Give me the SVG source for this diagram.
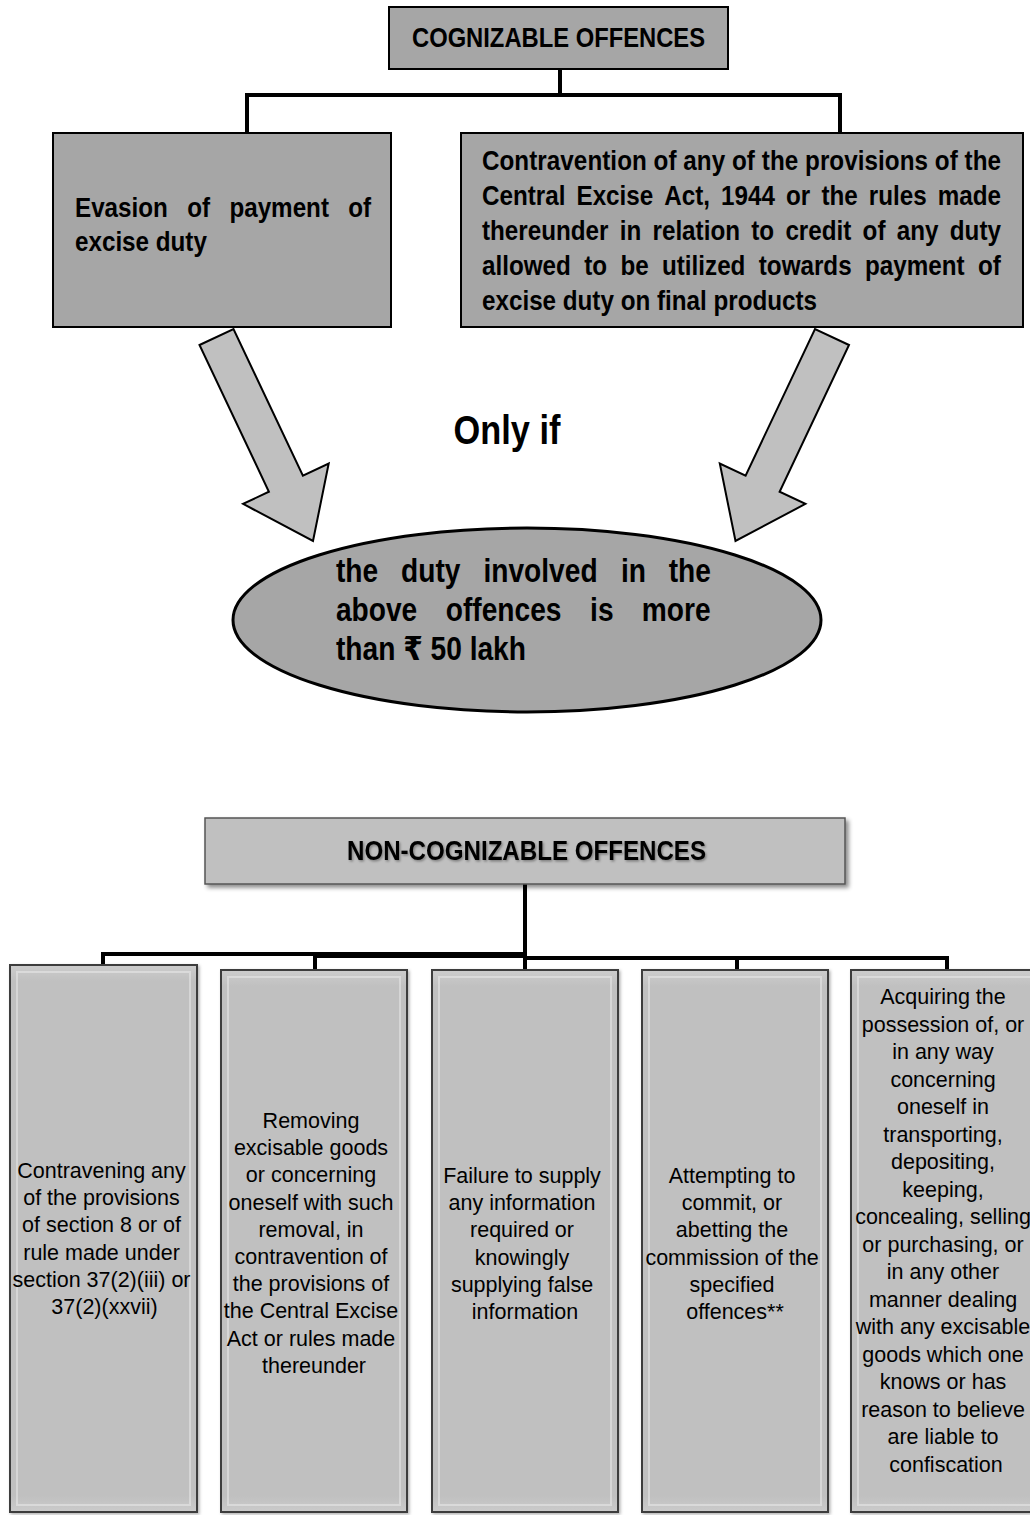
<svg xmlns="http://www.w3.org/2000/svg" width="1030" height="1515" viewBox="0 0 1030 1515">
  <defs>
    <style>
      .bold { font-family: "Liberation Sans", Arial, "DejaVu Sans", sans-serif; font-weight: bold; fill: #000; }
      .plain { font-family: "Liberation Sans", Arial, sans-serif; font-size: 21.5px; fill: #000; text-anchor: middle; }
      .darkbox { fill: #a6a6a6; stroke: #000; stroke-width: 2; }
      .arrow { fill: #c0c0c0; stroke: #000; stroke-width: 2; stroke-linejoin: miter; }
      .wire { fill: none; stroke: #000; stroke-width: 4; stroke-linecap: square; }
      .glass { fill: url(#glassFill); stroke: #3c3c3c; stroke-width: 2; }
      .glassEdge { fill: none; stroke: #ffffff; stroke-opacity: 0.35; stroke-width: 2; }
    </style>
    <linearGradient id="glassFill" x1="0" y1="0" x2="0" y2="1">
      <stop offset="0" stop-color="#cdcdcd"/>
      <stop offset="0.03" stop-color="#c0c0c0"/>
      <stop offset="0.97" stop-color="#c0c0c0"/>
      <stop offset="1" stop-color="#cbcbcb"/>
    </linearGradient>
    <filter id="shadow" x="-5%" y="-20%" width="115%" height="150%">
      <feDropShadow dx="3" dy="3" stdDeviation="2" flood-color="#000" flood-opacity="0.45"/>
    </filter>
    <filter id="softShadow" x="-5%" y="-5%" width="115%" height="115%">
      <feDropShadow dx="1.5" dy="1.5" stdDeviation="1.5" flood-color="#000" flood-opacity="0.3"/>
    </filter>
    <filter id="textShadow" x="-5%" y="-30%" width="110%" height="170%">
      <feDropShadow dx="1.5" dy="1.5" stdDeviation="1" flood-color="#000" flood-opacity="0.35"/>
    </filter>
  </defs>

  <rect width="1030" height="1515" fill="#ffffff"/>

  <!-- cognizable offences: tree connectors -->
  <g id="connectors-top">
    <path class="wire" d="M560 69 V95 M247 95 H840 M247 95 V132 M840 95 V132"/>
  </g>

  <!-- block arrows into the condition ellipse -->
  <g id="arrows">
    <polygon class="arrow" points="199.5,345 233.5,329 302.9,475.7 328.7,463.5 313,541 243.1,503.9 268.9,491.7"/>
    <polygon class="arrow" points="849,345 815,329 745.6,475.7 719.8,463.5 735.5,541 805.4,503.9 779.6,491.7"/>
  </g>

  <g id="node-cognizable">
    <rect class="darkbox" x="389" y="7" width="339" height="62"/>
    <g transform="scale(0.85 1)">
      <text class="bold" font-size="28" x="484.71" y="47" textLength="344.75" lengthAdjust="spacingAndGlyphs">COGNIZABLE OFFENCES</text>
    </g>
  </g>

  <g id="node-evasion">
    <rect class="darkbox" x="53" y="133" width="338" height="194" stroke-width="1.5"/>
    <g transform="scale(0.85 1)" class="bold" font-size="28.5">
      <text y="217"><tspan x="88.24">Evasion</tspan><tspan x="220.24">of</tspan><tspan x="269.88">payment</tspan><tspan x="409.77">of</tspan></text>
      <text x="88.24" y="251">excise duty</text>
    </g>
  </g>

  <g id="node-credit">
    <rect class="darkbox" x="461" y="133" width="562" height="194" stroke-width="1.5"/>
    <g transform="scale(0.85 1)" class="bold" font-size="28.5">
      <text x="567.07" y="170" textLength="610.59" lengthAdjust="spacing">Contravention of any of the provisions of the</text>
      <text y="205"><tspan x="567.07">Central</tspan><tspan x="678.24">Excise</tspan><tspan x="781.54">Act,</tspan><tspan x="848.36">1944</tspan><tspan x="924.71">or</tspan><tspan x="966.36">the</tspan><tspan x="1022.12">rules</tspan><tspan x="1103.3">made</tspan></text>
      <text y="240"><tspan x="567.07">thereunder</tspan><tspan x="729.06">in</tspan><tspan x="767.65">relation</tspan><tspan x="883.89">to</tspan><tspan x="924.01">credit</tspan><tspan x="1014.83">of</tspan><tspan x="1055.06">any</tspan><tspan x="1117.42">duty</tspan></text>
      <text y="275"><tspan x="567.07">allowed</tspan><tspan x="687.29">to</tspan><tspan x="729.89">be</tspan><tspan x="778.83">utilized</tspan><tspan x="892.71">towards</tspan><tspan x="1017.65">payment</tspan><tspan x="1150.48">of</tspan></text>
      <text x="567.07" y="310">excise duty on final products</text>
    </g>
  </g>

  <g id="label-only-if">
    <g transform="scale(0.85 1)">
      <text class="bold" font-size="40.4" x="596.48" y="444" text-anchor="middle">Only if</text>
    </g>
  </g>

  <g id="node-condition">
    <ellipse cx="527" cy="620" rx="294" ry="92" fill="#a6a6a6" stroke="#000" stroke-width="3"/>
    <g transform="scale(0.85 1)" class="bold" font-size="33.1">
      <text y="582"><tspan x="395.29">the</tspan><tspan x="471.89">duty</tspan><tspan x="568.82">involved</tspan><tspan x="730.48">in</tspan><tspan x="786.71">the</tspan></text>
      <text y="621"><tspan x="395.29">above</tspan><tspan x="524.47">offences</tspan><tspan x="694.24">is</tspan><tspan x="755.06">more</tspan></text>
      <text x="395.29" y="660">than ₹ 50 lakh</text>
    </g>
  </g>

  <!-- non-cognizable offences: tree connectors -->
  <g id="connectors-bottom">
    <path class="wire" d="M525 884 V957"/>
    <path class="wire" d="M103 965 V954 H315"/>
    <path fill="none" stroke="#000" stroke-width="6" d="M315 955 H525"/>
    <path class="wire" d="M315 970 V955"/>
    <path class="wire" d="M525 970 V958 H947 V970"/>
    <path class="wire" d="M737 958 V970"/>
  </g>

  <g id="node-non-cognizable">
    <rect x="205" y="818" width="640" height="66" fill="#c0c0c0" stroke="#555" stroke-width="1.5" filter="url(#shadow)"/>
    <g transform="scale(0.85 1)">
      <text class="bold" font-size="27" x="619.42" y="860" text-anchor="middle" textLength="422.4" lengthAdjust="spacingAndGlyphs" filter="url(#textShadow)">NON-COGNIZABLE OFFENCES</text>
    </g>
  </g>

  <g id="node-section8">
    <rect class="glass" x="10" y="965" width="187" height="547" filter="url(#softShadow)"/>
    <rect class="glassEdge" x="17" y="972" width="173" height="533"/>
    <text class="plain" y="1178">
      <tspan x="104.5">Contravening any</tspan>
      <tspan x="104.5" dy="27.2">of the provisions</tspan>
      <tspan x="104.5" dy="27.2">of section 8 or of</tspan>
      <tspan x="104.5" dy="27.2">rule made under</tspan>
      <tspan x="104.5" dy="27.2">section 37(2)(iii) or</tspan>
      <tspan x="104.5" dy="27.2">37(2)(xxvii)</tspan>
    </text>
  </g>

  <g id="node-removal">
    <rect class="glass" x="221" y="970" width="186" height="542" filter="url(#softShadow)"/>
    <rect class="glassEdge" x="228" y="977" width="172" height="528"/>
    <text class="plain" y="1128">
      <tspan x="314">Removing</tspan>
      <tspan x="314" dy="27.2">excisable goods</tspan>
      <tspan x="314" dy="27.2">or concerning</tspan>
      <tspan x="314" dy="27.2">oneself with such</tspan>
      <tspan x="314" dy="27.2">removal, in</tspan>
      <tspan x="314" dy="27.2">contravention of</tspan>
      <tspan x="314" dy="27.2">the provisions of</tspan>
      <tspan x="314" dy="27.2">the Central Excise</tspan>
      <tspan x="314" dy="27.2">Act or rules made</tspan>
      <tspan x="314" dy="27.2">thereunder</tspan>
    </text>
  </g>

  <g id="node-information">
    <rect class="glass" x="432" y="970" width="186" height="542" filter="url(#softShadow)"/>
    <rect class="glassEdge" x="439" y="977" width="172" height="528"/>
    <text class="plain" y="1183">
      <tspan x="525">Failure to supply</tspan>
      <tspan x="525" dy="27.2">any information</tspan>
      <tspan x="525" dy="27.2">required or</tspan>
      <tspan x="525" dy="27.2">knowingly</tspan>
      <tspan x="525" dy="27.2">supplying false</tspan>
      <tspan x="525" dy="27.2">information</tspan>
    </text>
  </g>

  <g id="node-attempt">
    <rect class="glass" x="642" y="970" width="186" height="542" filter="url(#softShadow)"/>
    <rect class="glassEdge" x="649" y="977" width="172" height="528"/>
    <text class="plain" y="1183">
      <tspan x="735">Attempting to</tspan>
      <tspan x="735" dy="27.2">commit, or</tspan>
      <tspan x="735" dy="27.2">abetting the</tspan>
      <tspan x="735" dy="27.2">commission of the</tspan>
      <tspan x="735" dy="27.2">specified</tspan>
      <tspan x="735" dy="27.2">offences**</tspan>
    </text>
  </g>

  <g id="node-possession">
    <rect class="glass" x="851" y="970" width="190" height="542" filter="url(#softShadow)"/>
    <rect class="glassEdge" x="858" y="977" width="176" height="528"/>
    <text class="plain" y="1004">
      <tspan x="946">Acquiring the</tspan>
      <tspan x="946" dy="27.5">possession of, or</tspan>
      <tspan x="946" dy="27.5">in any way</tspan>
      <tspan x="946" dy="27.5">concerning</tspan>
      <tspan x="946" dy="27.5">oneself in</tspan>
      <tspan x="946" dy="27.5">transporting,</tspan>
      <tspan x="946" dy="27.5">depositing,</tspan>
      <tspan x="946" dy="27.5">keeping,</tspan>
      <tspan x="946" dy="27.5">concealing, selling</tspan>
      <tspan x="946" dy="27.5">or purchasing, or</tspan>
      <tspan x="946" dy="27.5">in any other</tspan>
      <tspan x="946" dy="27.5">manner dealing</tspan>
      <tspan x="946" dy="27.5">with any excisable</tspan>
      <tspan x="946" dy="27.5">goods which one</tspan>
      <tspan x="946" dy="27.5">knows or has</tspan>
      <tspan x="946" dy="27.5">reason to believe</tspan>
      <tspan x="946" dy="27.5">are liable to</tspan>
      <tspan x="946" dy="27.5">confiscation</tspan>
    </text>
  </g>
</svg>
